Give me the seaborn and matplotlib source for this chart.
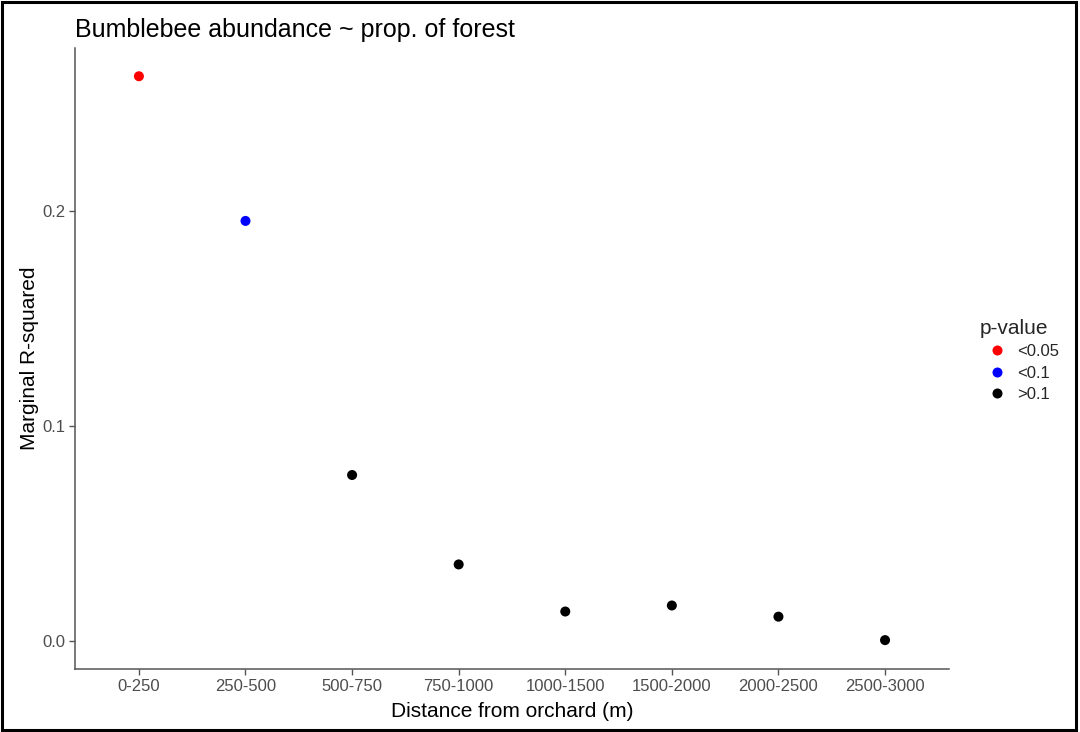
import matplotlib
matplotlib.use("Agg")
import matplotlib.pyplot as plt
import seaborn as sns
import pandas as pd
from matplotlib.patches import Rectangle

# Distance buffers around each orchard and model fit per buffer
distances = ["0-250", "250-500", "500-750", "750-1000",
             "1000-1500", "1500-2000", "2000-2500", "2500-3000"]
r_squared = [0.2626, 0.1953, 0.0771, 0.0355, 0.0136, 0.0164, 0.0112, 0.0003]
p_class = ["<0.05", "<0.1", ">0.1", ">0.1", ">0.1", ">0.1", ">0.1", ">0.1"]
p_levels = ["<0.05", "<0.1", ">0.1"]
p_colors = ["#FF0000", "#0000FF", "#000000"]

df = pd.DataFrame({"distance": distances, "r2": r_squared, "p": p_class})
df["distance"] = pd.Categorical(df["distance"], categories=distances, ordered=True)

sns.set_style("white")
plt.rcParams["font.family"] = ["Liberation Sans", "DejaVu Sans"]

fig = plt.figure(figsize=(10.8, 7.32), dpi=100)
ax = fig.add_axes([0.0694, 0.0861, 0.8093, 0.8483])

sns.scatterplot(data=df, x="distance", y="r2", hue="p", hue_order=p_levels,
                palette=dict(zip(p_levels, p_colors)), s=52, linewidth=0,
                ax=ax, legend=True)

# Discrete x-axis with ggplot-like padding
ax.set_xlim(-0.6, len(distances) - 1 + 0.6)
ymax = max(r_squared)
pad = 0.05 * ymax
ax.set_ylim(-pad, ymax + pad)
ax.set_yticks([0.0, 0.1, 0.2])
ax.set_yticklabels(["0.0", "0.1", "0.2"])

for side in ["top", "right"]:
    ax.spines[side].set_visible(False)
for side in ["left", "bottom"]:
    ax.spines[side].set_color("#555555")
    ax.spines[side].set_linewidth(1.1)
ax.tick_params(axis="both", which="major", length=4, width=1.0, color="#555555",
               labelsize=12, labelcolor="#4D4D4D", pad=3, direction="out",
               bottom=True, left=True)

ax.set_xlabel("Distance from orchard (m)", fontsize=15, color="black", labelpad=6)
ax.set_ylabel("Marginal R-squared", fontsize=15, color="black", labelpad=2)
ax.set_title("Bumblebee abundance ~ prop. of forest", fontsize=18,
             loc="left", pad=8, color="black")

sns.move_legend(ax, "center left", bbox_to_anchor=(1.028, 0.497), frameon=False,
                title="p-value", fontsize=12, title_fontsize=15,
                handletextpad=0.2, labelspacing=0.38, markerscale=1.0,
                borderaxespad=0.0)
leg = ax.get_legend()
leg._legend_box.align = "left"

# Outer frame around the whole figure
fig.patches.append(Rectangle((0.002, 0.003), 0.994, 0.994, transform=fig.transFigure,
                             fill=False, edgecolor="black", linewidth=2.2))

fig.savefig("out.png", dpi=100)
